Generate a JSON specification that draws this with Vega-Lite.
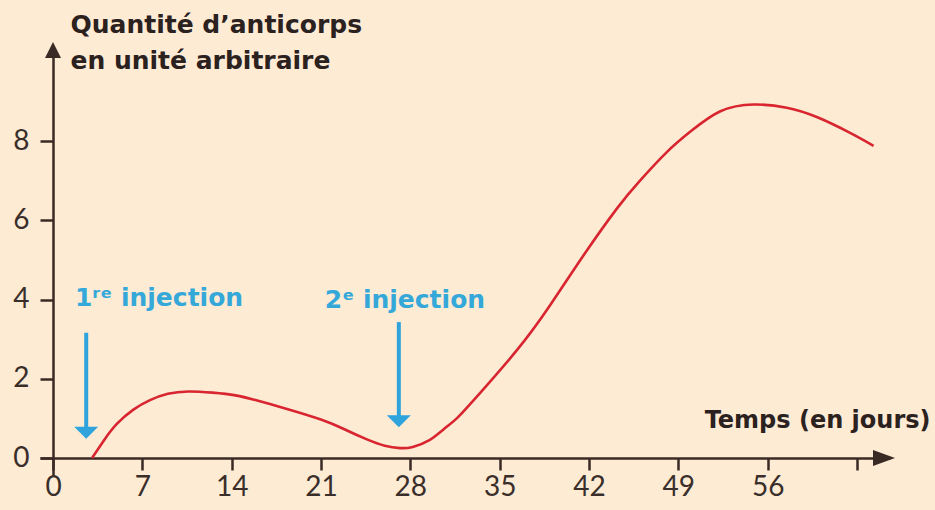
{
  "$schema": "https://vega.github.io/schema/vega-lite/v6.json",
  "autosize": "none",
  "width": 850,
  "height": 425,
  "padding": {"left": 40, "top": 50, "right": 45, "bottom": 35},
  "background": "#fdebd4",
  "config": {"view": {"stroke": null}, "font": "Lato"},
  "datasets": {
    "curve": [
      {"day": 3.06, "value": 0},
      {"day": 4.0, "value": 0.45},
      {"day": 5.0, "value": 0.86},
      {"day": 6.3, "value": 1.22},
      {"day": 7.6, "value": 1.46},
      {"day": 9.0, "value": 1.62},
      {"day": 10.6, "value": 1.68},
      {"day": 12.5, "value": 1.65},
      {"day": 14.3, "value": 1.58},
      {"day": 16.0, "value": 1.45},
      {"day": 18.0, "value": 1.27},
      {"day": 21.1, "value": 0.96},
      {"day": 23.0, "value": 0.7},
      {"day": 24.6, "value": 0.47},
      {"day": 26.0, "value": 0.31},
      {"day": 27.2, "value": 0.25},
      {"day": 28.2, "value": 0.28},
      {"day": 29.5, "value": 0.45},
      {"day": 30.6, "value": 0.72},
      {"day": 31.7, "value": 1.02},
      {"day": 32.6, "value": 1.33},
      {"day": 33.6, "value": 1.69},
      {"day": 36.4, "value": 2.74},
      {"day": 38.9, "value": 3.83},
      {"day": 41.5, "value": 5.08},
      {"day": 44.2, "value": 6.3},
      {"day": 46.0, "value": 7.0},
      {"day": 48.1, "value": 7.72},
      {"day": 50.0, "value": 8.25},
      {"day": 52.3, "value": 8.75},
      {"day": 54.9, "value": 8.92},
      {"day": 57.5, "value": 8.84},
      {"day": 59.9, "value": 8.6},
      {"day": 62.5, "value": 8.2},
      {"day": 64.3, "value": 7.88}
    ],
    "arrows": [
      {"day": 2.6, "value": 3.16, "value2": 0.7},
      {"day": 27.1, "value": 3.43, "value2": 1.0}
    ],
    "heads": [
      {"day": 2.6, "value": 0.64},
      {"day": 27.1, "value": 0.93}
    ],
    "labels": [
      {"day": 1.72, "value": 3.84, "text": "1ʳᵉ injection"},
      {"day": 21.3, "value": 3.79, "text": "2ᵉ injection"}
    ],
    "xarrow": [{"day": 65.12, "value": 0}],
    "yarrow": [{"day": 0, "value": 10.3}]
  },
  "encoding": {
    "x": {
      "field": "day",
      "type": "quantitative",
      "scale": {"domain": [-1.02, 65.59], "nice": false, "zero": false},
      "axis": {
        "values": [0, 7, 14, 21, 28, 35, 42, 49, 56, 63],
        "labelExpr": "datum.value == 63 ? '' : datum.label",
        "offset": -17,
        "grid": false,
        "domainColor": "#3a2a25",
        "domainWidth": 2.5,
        "tickColor": "#3a2a25",
        "tickWidth": 2.5,
        "tickSize": 12,
        "labelFont": "Lato",
        "labelFontSize": 28,
        "labelColor": "#3a2e2a",
        "labelPadding": 3,
        "labelFlush": false,
        "labelOverlap": false,
        "title": "Temps (en jours)",
        "titleX": 890,
        "titleY": -31,
        "titleAlign": "right",
        "titleBaseline": "alphabetic",
        "titleFont": "DejaVu Sans",
        "titleFontSize": 24,
        "titleFontWeight": "bold",
        "titleColor": "#2b211e"
      }
    },
    "y": {
      "field": "value",
      "type": "quantitative",
      "scale": {"domain": [-0.429, 10.297], "nice": false, "zero": false},
      "axis": {
        "values": [0, 2, 4, 6, 8],
        "offset": -13,
        "grid": false,
        "domainColor": "#3a2a25",
        "domainWidth": 2.5,
        "tickColor": "#3a2a25",
        "tickWidth": 2.5,
        "tickSize": 13,
        "labelFont": "Lato",
        "labelFontSize": 28,
        "labelColor": "#3a2e2a",
        "labelPadding": 11,
        "labelFlush": false,
        "labelOverlap": false,
        "title": ["Quantité d’anticorps", "en unité arbitraire"],
        "titleAngle": 0,
        "titleX": 17,
        "titleY": -18,
        "titleAlign": "left",
        "titleBaseline": "alphabetic",
        "titleLineHeight": 36,
        "titleFont": "DejaVu Sans",
        "titleFontSize": 25,
        "titleFontWeight": "bold",
        "titleColor": "#2b211e"
      }
    }
  },
  "layer": [
    {
      "data": {"name": "curve"},
      "mark": {"type": "line", "color": "#d8252f", "strokeWidth": 2.6, "interpolate": "natural"}
    },
    {
      "data": {"name": "arrows"},
      "mark": {"type": "rule", "color": "#2ea3dc", "strokeWidth": 4},
      "encoding": {"y2": {"field": "value2"}}
    },
    {
      "data": {"name": "heads"},
      "mark": {"type": "point", "shape": "M-1,-0.5L1,-0.5L0,0.5Z", "size": 576, "filled": true, "color": "#2ea3dc", "opacity": 1}
    },
    {
      "data": {"name": "labels"},
      "mark": {"type": "text", "align": "left", "baseline": "alphabetic", "font": "DejaVu Sans", "fontSize": 25, "fontWeight": "bold", "color": "#35a8da"},
      "encoding": {"text": {"field": "text"}}
    },
    {
      "data": {"name": "xarrow"},
      "mark": {"type": "point", "shape": "M-1,-0.727L1,0L-1,0.727Z", "size": 484, "filled": true, "color": "#3a2a25", "opacity": 1}
    },
    {
      "data": {"name": "yarrow"},
      "mark": {"type": "point", "shape": "M0,-1L1,1L-1,1Z", "size": 256, "filled": true, "color": "#3a2a25", "opacity": 1}
    }
  ]
}
